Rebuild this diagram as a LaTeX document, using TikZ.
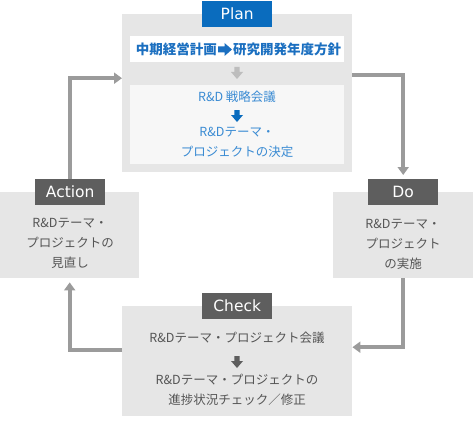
\documentclass[tikz,border=0pt]{standalone}
\usepackage{fontspec}
\setmainfont{Noto Sans CJK JP}
\newfontfamily\labfont{DejaVu Sans}
\usetikzlibrary{arrows.meta}
\definecolor{boxgray}{HTML}{E6E6E6}
\definecolor{innerlight}{HTML}{F7F7F7}
\definecolor{conngray}{HTML}{9B9B9B}
\definecolor{labdark}{HTML}{5E5E5E}
\definecolor{planblue}{HTML}{0A6CBE}
\definecolor{titleblue}{HTML}{1B6FC0}
\definecolor{textblue}{HTML}{3A8BD3}
\definecolor{textgray}{HTML}{555555}
\definecolor{lightarrow}{HTML}{BDBDBD}
\tikzset{
  box/.style={fill=boxgray, inner sep=0pt, anchor=north west},
  phaselabel/.style={inner sep=0pt, anchor=north west, minimum width=70pt, minimum height=26pt,
    text=white, font=\labfont\fontsize{15.5}{16}\selectfont},
  bodytext/.style={inner sep=0pt, align=center, text=textgray, font=\fontsize{12.5}{20}\selectfont},
  titletext/.style={inner sep=0pt, text=titleblue, font=\bfseries\fontsize{13.5}{16}\selectfont},
  conn/.style={draw=conngray, line width=4pt, -{Triangle[length=8pt,width=11pt]}},
  downarrow/.pic={\path[pic actions] (-2.6,0) -- (2.6,0) -- (2.6,5) -- (6,5) -- (0,12) -- (-6,5) -- (-2.6,5) -- cycle;},
  rightarrow/.pic={\path[pic actions] (0,-3) -- (6.5,-3) -- (6.5,-6.5) -- (14,0) -- (6.5,6.5) -- (6.5,3) -- (0,3) -- cycle;}
}
\begin{document}
\begin{tikzpicture}[x=1pt,y=-1pt]
\useasboundingbox (0,0) rectangle (473,425);
% Plan
\node[box, minimum width=230pt, minimum height=158pt] (plan) at (122,14) {};
\node[inner sep=0pt, anchor=north west, fill=white, minimum width=214pt, minimum height=26pt] (planrow) at (130,36) {};
\node[titletext, anchor=east] (plantitlea) at (217,49) {中期経営計画};
\pic[fill=titleblue] at (218,49.5) {rightarrow};
\node[titletext, anchor=west] (plantitleb) at (233,49) {研究開発年度方針};
\pic[fill=lightarrow] at (237,67) {downarrow};
\node[inner sep=0pt, anchor=north west, fill=innerlight, minimum width=214pt, minimum height=79pt] (planinner) at (130,85) {};
\node[bodytext, text=textblue] (plantxta) at (237,97) {R\&D 戦略会議};
\pic[fill=planblue] at (237,110) {downarrow};
\node[bodytext, text=textblue] (plantxtb) at (237,142) {R\&Dテーマ・\\プロジェクトの決定};
\node[phaselabel, fill=planblue] (planlab) at (202,1) {Plan};
% Action
\node[box, minimum width=139pt, minimum height=86pt] (actbox) at (0,192) {};
\node[phaselabel, fill=labdark] (actlab) at (35,179) {Action};
\node[bodytext] (acttxt) at (70,243) {R\&Dテーマ・\\プロジェクトの\\見直し};
% Do
\node[box, minimum width=140pt, minimum height=86pt] (dobox) at (333,192) {};
\node[phaselabel, fill=labdark] (dolab) at (368,179) {Do};
\node[bodytext] (dotxt) at (403,244) {R\&Dテーマ・\\プロジェクト\\の実施};
% Check
\node[box, minimum width=230pt, minimum height=110pt] (check) at (122,306) {};
\node[phaselabel, fill=labdark] (checklab) at (202,293) {Check};
\node[bodytext] (checktxta) at (237,338) {R\&Dテーマ・プロジェクト会議};
\pic[fill=labdark] at (237,356) {downarrow};
\node[bodytext] (checktxtb) at (237,389.5) {R\&Dテーマ・プロジェクトの\\進捗状況チェック／修正};
% connectors
\draw[conn] (actlab.north) |- ([yshift=15pt]plan.west);
\draw[conn, shorten >=4pt] ([yshift=18pt]plan.east) -| (dolab.north);
\draw[conn] (dobox.south) |- ([yshift=14pt]check.east);
\draw[conn, shorten >=4pt] ([yshift=11pt]check.west) -| (actbox.south);
\end{tikzpicture}
\end{document}
